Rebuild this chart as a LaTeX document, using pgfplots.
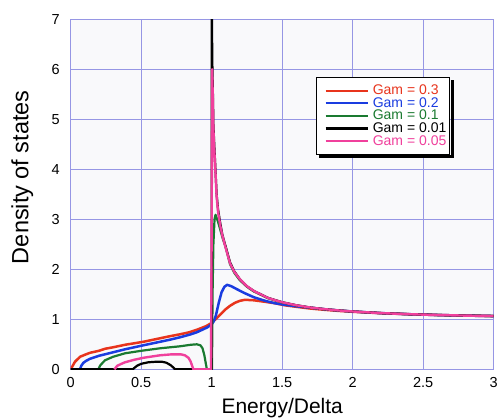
\documentclass[border=0pt]{standalone}
\usepackage{fontspec}
\setmainfont{Liberation Sans}
\usepackage{pgfplots}
\pgfplotsset{compat=1.18}
\definecolor{cRed}{RGB}{232,52,28}
\definecolor{cBlue}{RGB}{26,60,224}
\definecolor{cGreen}{RGB}{26,122,48}
\definecolor{cPink}{RGB}{240,64,156}
\definecolor{cGrid}{RGB}{150,150,228}
\definecolor{cBg}{RGB}{249,249,251}
\begin{document}
\begin{tikzpicture}
\begin{axis}[
  scale only axis, width=423pt, height=350pt,
  xmin=0, xmax=3, ymin=0, ymax=7,
  xtick={0,0.5,1,1.5,2,2.5,3}, ytick={0,1,2,3,4,5,6,7},
  xticklabels={0,0.5,1,1.5,2,2.5,3},
  major tick length=0pt,
  grid=major, grid style={cGrid, line width=0.7pt},
  axis line style={cGrid, line width=0.7pt},
  axis background/.style={fill=cBg},
  /pgf/number format/assume math mode=true,
  tick label style={font=\fontsize{14.5}{16}\selectfont},
  xticklabel style={yshift=-5pt},
  yticklabel style={xshift=-7.5pt},
  xlabel={Energy/Delta}, ylabel={Density of states},
  xlabel style={font=\fontsize{21}{24}\selectfont, at={(axis description cs:0.5,-0.1249)}, anchor=base},
  ylabel style={font=\fontsize{23.5}{26}\selectfont, at={(axis description cs:-0.0998,0.549)}, anchor=base},
  legend style={name=LEG, at={(axis description cs:0.58,0.835)}, anchor=north west,
    draw=black, line width=0.8pt, fill=white,
    inner xsep=3.5pt, inner ysep=7pt, row sep=0pt, column sep=4pt,
    nodes={inner sep=0pt, text height=10.3pt, text depth=2.3pt},
    font=\fontsize{14}{14}\selectfont},
  legend cell align=left,
  legend image code/.code={\path (-4.5pt,0pt); \draw[#1, line width=2.2pt] (0pt,0pt) -- (42pt,0pt);},
  every axis plot/.append style={line width=2.5pt, line join=round},
]
\addplot[cRed] coordinates {
(0,0) (0.01,0.05) (0.03,0.15) (0.066,0.25) (0.10,0.29) (0.137,0.33) (0.2,0.37)
(0.243,0.41) (0.3,0.44) (0.385,0.49) (0.45,0.52) (0.515,0.55) (0.633,0.62)
(0.7,0.66) (0.775,0.70) (0.84,0.74) (0.894,0.79) (0.94,0.84) (0.965,0.87)
(1.0,0.93) (1.023,0.99) (1.06,1.09) (1.094,1.19) (1.13,1.27) (1.165,1.33)
(1.2,1.37) (1.236,1.39) (1.3,1.38) (1.378,1.35) (1.45,1.32) (1.52,1.28)
(1.6,1.25) (1.7,1.215) (1.8,1.19) (1.9,1.168) (2.0,1.15) (2.2,1.122)
(2.4,1.101) (2.6,1.086) (2.8,1.074) (3.0,1.065)};
\addlegendentry{\textcolor{cRed}{Gam = 0.3}}
\addplot[cBlue] coordinates {
(0.066,0) (0.075,0.07) (0.09,0.13) (0.11,0.17) (0.137,0.21) (0.2,0.27)
(0.243,0.30) (0.3,0.34) (0.385,0.40) (0.45,0.44) (0.515,0.48) (0.633,0.55)
(0.7,0.59) (0.775,0.64) (0.84,0.69) (0.894,0.74) (0.94,0.80) (0.97,0.84)
(1.0,0.90) (1.015,0.96) (1.03,1.08) (1.05,1.33) (1.07,1.54) (1.09,1.65)
(1.11,1.69) (1.14,1.66) (1.18,1.60) (1.236,1.52) (1.3,1.44) (1.378,1.37)
(1.45,1.32) (1.52,1.29) (1.6,1.26) (1.7,1.232) (1.8,1.202) (1.9,1.177)
(2.0,1.156) (2.2,1.124) (2.4,1.102) (2.6,1.086) (2.8,1.074) (3.0,1.065)};
\addlegendentry{\textcolor{cBlue}{Gam = 0.2}}
\addplot[cGreen, line width=2.2pt] coordinates {
(0.196,0) (0.21,0.08) (0.243,0.18) (0.3,0.25) (0.385,0.32) (0.5,0.37)
(0.633,0.42) (0.775,0.46) (0.85,0.49) (0.894,0.50) (0.92,0.48) (0.935,0.42)
(0.948,0.28) (0.958,0.12) (0.966,0) (1.002,0) (1.006,1.5) (1.012,2.5)
(1.02,3.0) (1.027,3.09) (1.035,3.03) (1.045,2.95) (1.062,2.78) (1.08,2.6)
(1.098,2.46) (1.13,2.1) (1.16,1.93) (1.2,1.78) (1.25,1.65) (1.3,1.555)
(1.4,1.42) (1.5,1.335) (1.6,1.277) (1.7,1.234) (1.8,1.202) (1.9,1.177)
(2.0,1.156) (2.2,1.124) (2.4,1.102) (2.6,1.086) (2.8,1.074) (3.0,1.065)};
\addlegendentry{\textcolor{cGreen}{Gam = 0.1}}
\addplot[black, line width=2.2pt] coordinates {
(0,0) (0.44,0) (0.47,0.07) (0.5,0.11) (0.55,0.14) (0.6,0.15) (0.65,0.15)
(0.68,0.13) (0.71,0.08) (0.73,0.03) (0.74,0) (0.9995,0) (1.0,7.5) (1.002,7.0)
(1.004,6.2) (1.008,5.6) (1.012,4.9) (1.018,4.5) (1.024,4.15) (1.035,3.5)
(1.045,3.2) (1.059,2.95) (1.075,2.7) (1.094,2.5) (1.13,2.14) (1.16,1.96)
(1.2,1.8) (1.25,1.66) (1.3,1.565) (1.4,1.428) (1.5,1.342) (1.6,1.281)
(1.7,1.235) (1.8,1.203) (1.9,1.177) (2.0,1.156) (2.2,1.124) (2.4,1.102)
(2.6,1.086) (2.8,1.074) (3.0,1.065)};
\addlegendentry{\textcolor{black}{Gam = 0.01}}
\addplot[cPink, line width=2.4pt] coordinates {
(0.31,0) (0.33,0.07) (0.36,0.11) (0.385,0.14) (0.45,0.19) (0.515,0.23)
(0.633,0.28) (0.72,0.30) (0.78,0.30) (0.81,0.28) (0.835,0.23) (0.85,0.16)
(0.86,0.08) (0.87,0) (0.995,0) (1.0,3.0) (1.003,6.0) (1.008,5.4) (1.012,4.8)
(1.018,4.4) (1.024,4.1) (1.035,3.45) (1.045,3.15) (1.059,2.9) (1.075,2.68)
(1.094,2.48) (1.13,2.12) (1.16,1.95) (1.2,1.8) (1.25,1.66) (1.3,1.565)
(1.4,1.425) (1.5,1.34) (1.6,1.28) (1.7,1.235) (1.8,1.203) (1.9,1.177)
(2.0,1.156) (2.2,1.124) (2.4,1.102) (2.6,1.086) (2.8,1.074) (3.0,1.065)};
\addlegendentry{\textcolor{cPink}{Gam = 0.05}}
\end{axis}
\fill[black] ([shift={(3pt,-3.4pt)}]LEG.south west) rectangle ([shift={(3.4pt,-0.4pt)}]LEG.south east);
\fill[black] ([shift={(0.4pt,-3pt)}]LEG.north east) rectangle ([shift={(3.4pt,-3.4pt)}]LEG.south east);
\pgfresetboundingbox
\path[use as bounding box] ([shift={(-70.7pt,-47.7pt)}]current axis.south west) rectangle ([shift={(3.3pt,19.3pt)}]current axis.north east);
\end{tikzpicture}
\end{document}
